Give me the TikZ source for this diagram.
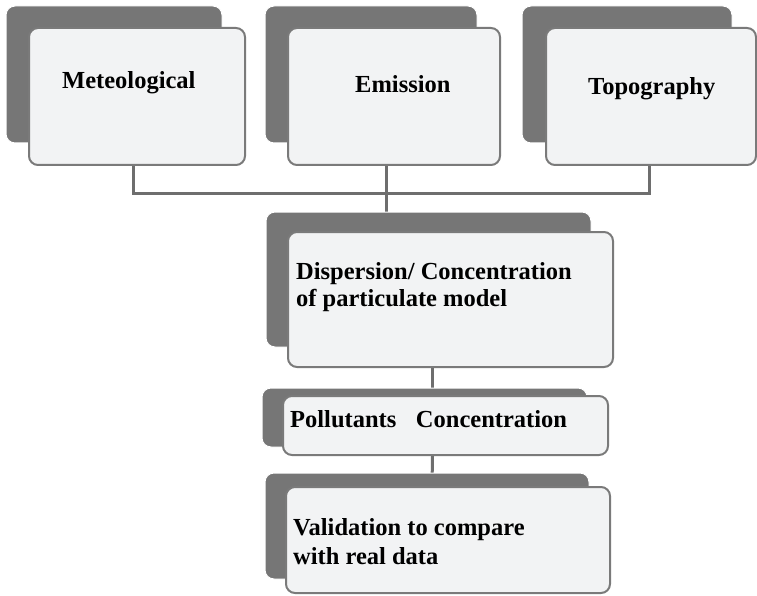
\documentclass[tikz,border=0pt]{standalone}
\usepackage{fontspec}
\setmainfont{Liberation Serif}
\usetikzlibrary{shadows}
\usetikzlibrary{backgrounds}
\definecolor{backgray}{HTML}{767676}
\definecolor{frontfill}{HTML}{F2F3F4}
\definecolor{edgegray}{HTML}{7A7A7A}
\definecolor{linkgray}{HTML}{6E6E6E}

\begin{document}
\begin{tikzpicture}[x=1pt,y=-1pt,
  tile/.style n args={4}{draw=edgegray, line width=2pt, fill=frontfill,
    rounded corners=9pt, minimum width=#1, minimum height=#2, inner sep=0pt,
    general shadow={fill=backgray, draw=white, line width=1pt,
      shadow xshift=#3, shadow yshift=#4}},
  txt/.style={font=\bfseries\fontsize{24.5}{27}\selectfont, inner sep=0pt, align=left},
  link/.style={draw=linkgray, line width=3pt}]
\useasboundingbox (0,0) rectangle (757,596);
\node[tile={216}{137}{-23}{-22}] (met) at (137,96.5) {};
\node[tile={212}{137}{-23}{-22}] (emi) at (394,96.5) {};
\node[tile={210}{137}{-24}{-22}] (topo) at (651,96.5) {};
\node[tile={325}{135}{-22}{-20}] (disp) at (450.5,299.5) {};
\node[tile={325}{59}{-21}{-8}] (poll) at (445.5,425.5) {};
\node[tile={324}{106}{-21}{-14}] (valid) at (448,540) {};

\node[txt, anchor=base west] (mettext) at (62,89) {Meteological};
\node[txt, anchor=base west] (emitext) at (355,93) {Emission};
\node[txt, anchor=base west] (topotext) at (588,95) {Topography};
\node[txt, anchor=north west] (disptext) at (296,262) {Dispersion/ Concentration\\of particulate model};
\node[txt, anchor=base west] (polltext) at (290,427) {Pollutants\hspace{0.8em}Concentration};
\node[txt, anchor=north west, font=\bfseries\fontsize{24.5}{29}\selectfont] (validtext) at (293,518) {Validation to compare\\with real data};

\begin{scope}[on background layer]
\draw[link] ([xshift=-4]met.south) -- ++(0,28) -| ([xshift=-2]topo.south);
\draw[link] ([xshift=-8]emi.south) -- ([xshift=-8]emi.south |- disp.north);
\draw[link] ([xshift=-18]disp.south) -- ([xshift=-13]poll.north);
\draw[link] ([xshift=-13]poll.south) -- ([xshift=-16]valid.north);
\end{scope}
\end{tikzpicture}
\end{document}
